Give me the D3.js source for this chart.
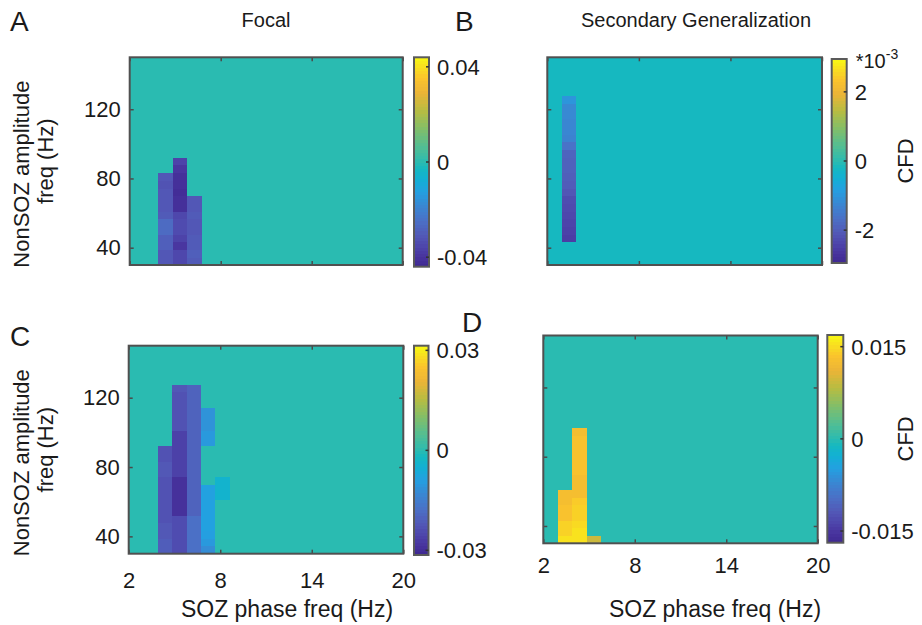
<!DOCTYPE html>
<html>
<head>
<meta charset="utf-8">
<script src="https://cdn.jsdelivr.net/npm/d3@7"></script>
<style>
  body { margin: 0; background: #fff; }
  text { font-family: "Liberation Sans", Arial, Helvetica, sans-serif; fill: #1a1a1a; }
</style>
</head>
<body>
<svg id="fig" width="922" height="625"></svg>
<script>
// grid of the comodulograms: 19 phase bins over 2-20 Hz, 27 amplitude bins over 30-150 Hz
var phaseRange = [2, 20];
var ampRange = [30, 150];
var nPhase = 19;
var nAmp = 27;
var xTicks = [2, 8, 14, 20];
var yTicks = [40, 80, 120];

// strips of non-background cells: [phase bin, first amp bin, values from the bottom up]
var focalPhase = [
  [2, 0, [-0.031, -0.031, -0.029, -0.029, -0.026, -0.026, -0.030, -0.031, -0.031, -0.031, -0.032, -0.031]],
  [3, 0, [-0.035, -0.035, -0.039, -0.036, -0.034, -0.034, -0.035, -0.041, -0.041, -0.042, -0.041, -0.041, -0.039, -0.036]],
  [4, 0, [-0.030, -0.029, -0.030, -0.030, -0.031, -0.031, -0.030, -0.031, -0.031]]
];
var secGenPhase = [ // units of 1e-3
  [1, 3, [-2.5, -2.45, -2.4, -2.35, -2.3, -2.25, -2.1, -2.0, -1.95, -1.9, -1.9, -1.85, -1.6, -1.3, -1.25, -1.25, -1.2, -1.2, -1.0]]
];
var focalAmp = [
  [2, 0, [-0.021, -0.021, -0.022, -0.022, -0.023, -0.023, -0.023, -0.023, -0.023, -0.023, -0.022, -0.022, -0.023, -0.023]],
  [3, 0, [-0.024, -0.024, -0.024, -0.024, -0.024, -0.029, -0.029, -0.029, -0.029, -0.029, -0.026, -0.026, -0.026, -0.026, -0.026, -0.026, -0.023, -0.023, -0.023, -0.023, -0.023, -0.022]],
  [4, 0, [-0.0176, -0.0176, -0.0176, -0.0176, -0.0176, -0.020, -0.020, -0.020, -0.020, -0.020, -0.020, -0.020, -0.020, -0.020, -0.020, -0.020, -0.020, -0.020, -0.020, -0.020, -0.020, -0.020]],
  [5, 0, [-0.012, -0.010, -0.009, -0.0085, -0.0085, -0.0085, -0.0085, -0.0085, -0.0085]],
  [5, 14, [-0.010, -0.010, -0.011, -0.011, -0.011]],
  [6, 7, [-0.004, -0.004, -0.004]]
];
var secGenAmp = [
  [1, 0, [0.0155, 0.0145, 0.0145, 0.0134, 0.0134, 0.0128, 0.0128]],
  [2, 0, [0.0155, 0.0155, 0.0150, 0.0144, 0.0144, 0.0140, 0.0128, 0.0128, 0.0128, 0.0134, 0.0134, 0.0134, 0.0134, 0.0134, 0.0128]],
  [3, 0, [0.0094]]
];
var backgrounds = [0, -0.18, 0, 0];
var limits = [0.044, 2.95, 0.0314, 0.0169];
var cbTicks = [[-0.04, 0, 0.04], [-2, 0, 2], [-0.03, 0, 0.03], [-0.015, 0, 0.015]];
var cbLabels = [["-0.04", "0", "0.04"], ["-2", "0", "2"], ["-0.03", "0", "0.03"], ["-0.015", "0", "0.015"]];

// parula-like map
var cmapStops = [0, 0.05, 0.10, 0.15, 0.22, 0.30, 0.36, 0.42, 0.47, 0.50, 0.58, 0.66, 0.75, 0.83, 0.90, 1.0];
var cmapColors = ["#3e2891", "#48349e", "#4e46ac", "#5258b6", "#4b70c6", "#378ad4", "#23a0e1", "#12b0d4", "#16b8c0", "#2abbb1",
                  "#55be91", "#82be69", "#b9bc41", "#ebb437", "#fac32d", "#f8f814"];
var cmap = d3.scaleLinear().domain(cmapStops).range(cmapColors).interpolate(d3.interpolateRgb).clamp(true);

var svg = d3.select("#fig");

var panels = [
  { data: focalPhase, box: [129.7, 402.7, 57.3, 265], cb: [414, 429, 57.3, 266.7], ylab: true, xlab: false },
  { data: secGenPhase, box: [547.3, 822, 57.3, 265], cb: [831.7, 846.7, 59, 263], ylab: false, xlab: false, cfd: true, exp: true },
  { data: focalAmp, box: [128.7, 403.3, 345.7, 553.7], cb: [414, 428.5, 345.7, 555], ylab: true, xlab: true, xpad: 19, xlx: 287 },
  { data: secGenAmp, box: [543.3, 817.7, 335.5, 543.3], cb: [827.3, 843.3, 335, 542.7], ylab: false, xlab: true, xpad: 14, xlx: 715, cfd: true }
];

panels.forEach(function(p, i) {
  var x = d3.scaleLinear().domain(phaseRange).range([p.box[0], p.box[1]]);
  var y = d3.scaleLinear().domain(ampRange).range([p.box[3], p.box[2]]);
  var norm = d3.scaleLinear().domain([-limits[i], limits[i]]).range([0, 1]);
  var pw = (phaseRange[1] - phaseRange[0]) / nPhase;
  var aw = (ampRange[1] - ampRange[0]) / nAmp;

  // full grid, background first then the strips
  var cells = [];
  for (var c = 0; c < nPhase; c++)
    for (var r = 0; r < nAmp; r++) cells.push({ c: c, r: r, v: backgrounds[i] });
  p.data.forEach(function(s) {
    s[2].forEach(function(v, k) {
      cells[s[0] * nAmp + s[1] + k].v = v;
    });
  });

  var g = svg.append("g");
  g.append("g").attr("shape-rendering", "crispEdges")
    .selectAll("rect.cell").data(cells).enter().append("rect")
    .attr("class", "cell")
    .attr("x", function(d) { return x(phaseRange[0] + d.c * pw); })
    .attr("width", function(d) { return x(phaseRange[0] + (d.c + 1) * pw) - x(phaseRange[0] + d.c * pw) + 0.5; })
    .attr("y", function(d) { return y(ampRange[0] + (d.r + 1) * aw); })
    .attr("height", function(d) { return y(ampRange[0] + d.r * aw) - y(ampRange[0] + (d.r + 1) * aw) + 0.5; })
    .attr("fill", function(d) { return cmap(norm(d.v)); });

  // ticks on all four sides, pointing in
  function styleAxis(a) {
    a.select(".domain").remove();
    a.selectAll("line").attr("stroke", "#4a4a4a").attr("stroke-width", 1.5);
    a.selectAll("text").attr("font-size", 22).attr("fill", "#1a1a1a")
      .attr("font-family", "'Liberation Sans', Arial, sans-serif");
    a.attr("font-family", null).attr("font-size", null);
  }
  g.append("g").attr("transform", "translate(" + p.box[0] + ",0)")
    .call(d3.axisLeft(y).tickValues(yTicks).tickSize(-4).tickPadding(9).tickFormat(p.ylab ? d3.format("d") : ""))
    .call(styleAxis);
  g.append("g").attr("transform", "translate(" + p.box[1] + ",0)")
    .call(d3.axisRight(y).tickValues(yTicks).tickSize(-4).tickFormat(""))
    .call(styleAxis);
  g.append("g").attr("transform", "translate(0," + p.box[3] + ")")
    .call(d3.axisBottom(x).tickValues(xTicks).tickSize(-4).tickPadding(p.xpad || 10).tickFormat(p.xlab ? d3.format("d") : ""))
    .call(styleAxis);
  g.append("g").attr("transform", "translate(0," + p.box[2] + ")")
    .call(d3.axisTop(x).tickValues(xTicks).tickSize(-4).tickFormat(""))
    .call(styleAxis);

  g.append("rect")
    .attr("x", p.box[0]).attr("y", p.box[2])
    .attr("width", p.box[1] - p.box[0]).attr("height", p.box[3] - p.box[2])
    .attr("fill", "none").attr("stroke", "#505050").attr("stroke-width", 2);

  // colorbar, 64 bands like matlab
  var cy = d3.scaleLinear().domain([-limits[i], limits[i]]).range([p.cb[3], p.cb[2]]);
  var bands = d3.range(64);
  var bh = (p.cb[3] - p.cb[2]) / 64;
  g.append("g").attr("shape-rendering", "crispEdges")
    .selectAll("rect.band").data(bands).enter().append("rect")
    .attr("class", "band")
    .attr("x", p.cb[0]).attr("width", p.cb[1] - p.cb[0])
    .attr("y", function(k) { return p.cb[3] - (k + 1) * bh; })
    .attr("height", bh + 0.6)
    .attr("fill", function(k) { return cmap((k + 0.5) / 64); });
  g.append("rect")
    .attr("x", p.cb[0]).attr("y", p.cb[2])
    .attr("width", p.cb[1] - p.cb[0]).attr("height", p.cb[3] - p.cb[2])
    .attr("fill", "none").attr("stroke", "#5a5a5a").attr("stroke-width", 2);
  g.selectAll("line.cbt").data(cbTicks[i]).enter().append("line")
    .attr("x1", p.cb[1] - 3).attr("x2", p.cb[1])
    .attr("y1", function(d) { return cy(d); }).attr("y2", function(d) { return cy(d); })
    .attr("stroke", "#333").attr("stroke-width", 1.5);
  g.selectAll("text.cbl").data(cbTicks[i]).enter().append("text")
    .attr("x", p.cb[1] + 8)
    .attr("y", function(d) { return cy(d) + 8; })
    .attr("font-size", 22)
    .text(function(d, k) { return cbLabels[i][k]; });

  if (p.exp) {
    var t = g.append("text").attr("x", p.cb[1] + 9).attr("y", 68).attr("font-size", 20);
    t.append("tspan").text("*10");
    t.append("tspan").attr("dy", -9).attr("font-size", 14).text("-3");
  }
  if (p.cfd) {
    g.append("text")
      .attr("transform", "translate(913," + ((p.cb[2] + p.cb[3]) / 2) + ") rotate(-90)")
      .attr("text-anchor", "middle").attr("font-size", 22).text("CFD");
  }
  if (p.ylab) {
    var yc = (p.box[2] + p.box[3]) / 2;
    g.append("text")
      .attr("transform", "translate(29," + (yc + 13) + ") rotate(-90)")
      .attr("text-anchor", "middle").attr("font-size", 22).text("NonSOZ amplitude");
    g.append("text")
      .attr("transform", "translate(53," + yc + ") rotate(-90)")
      .attr("text-anchor", "middle").attr("font-size", 22).text("freq (Hz)");
  }
  if (p.xlab) {
    g.append("text").attr("x", p.xlx).attr("y", 617)
      .attr("text-anchor", "middle").attr("font-size", 23).text("SOZ phase freq (Hz)");
  }
});

// titles and panel letters
svg.append("text").attr("x", 266).attr("y", 27).attr("text-anchor", "middle").attr("font-size", 20).text("Focal");
svg.append("text").attr("x", 696).attr("y", 27).attr("text-anchor", "middle").attr("font-size", 20).text("Secondary Generalization");
var letters = [["A", 10, 31], ["B", 455, 31], ["C", 10, 346], ["D", 462, 332]];
svg.selectAll("text.letter").data(letters).enter().append("text")
  .attr("class", "letter")
  .attr("x", function(d) { return d[1]; }).attr("y", function(d) { return d[2]; })
  .attr("font-size", 28).text(function(d) { return d[0]; });
</script>
</body>
</html>
